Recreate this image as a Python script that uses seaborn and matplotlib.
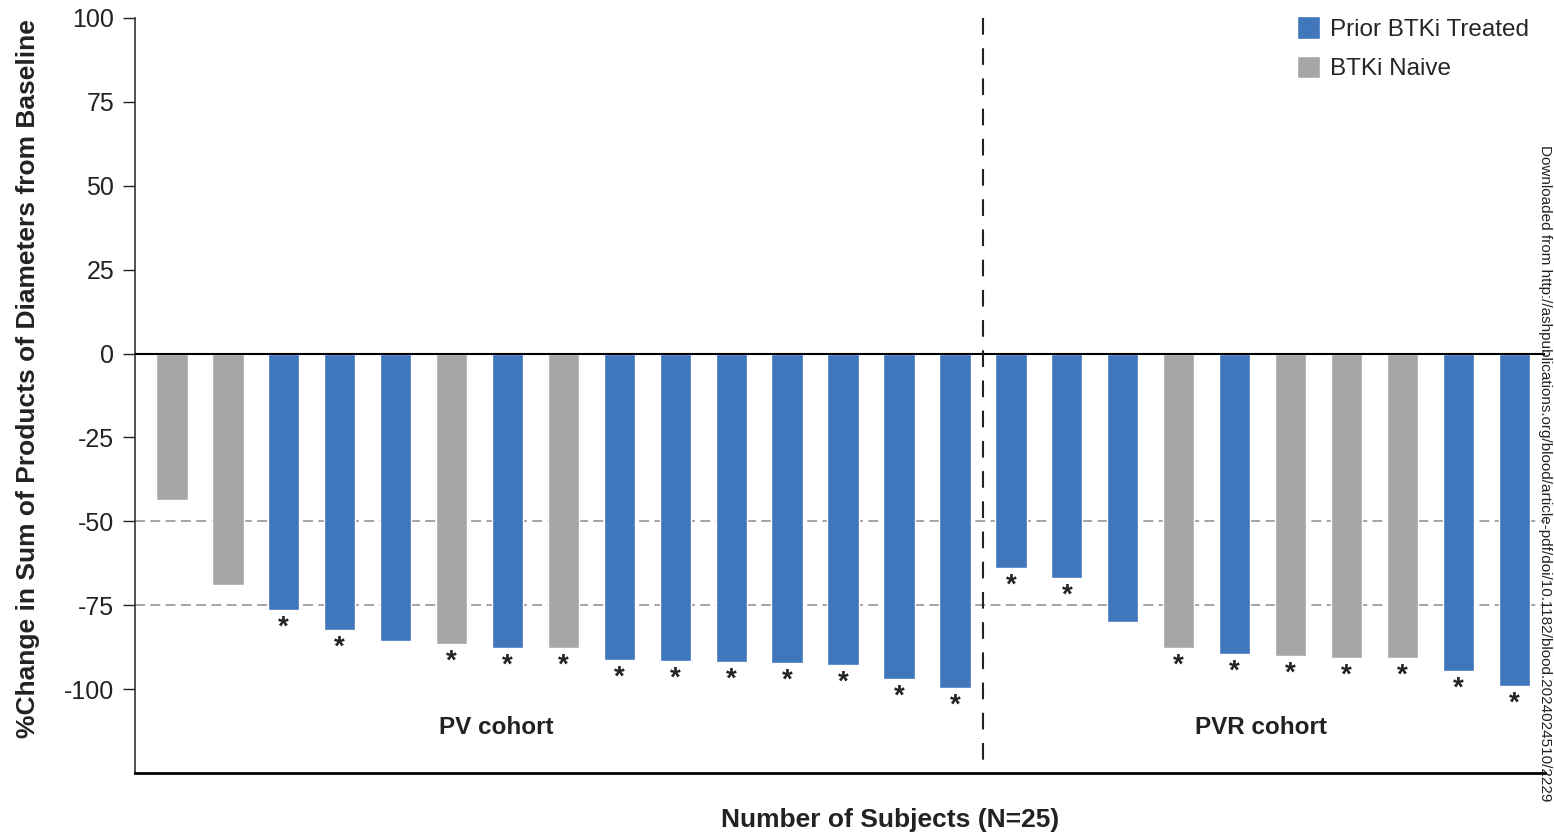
import pandas as pd
import seaborn as sns
import matplotlib.pyplot as plt
from matplotlib.patches import Patch

# % change in SPD per subject (left to right)
subjects = [str(i) for i in range(1, 26)]
pct_change = [-43.7, -69, -76.5, -82.4, -85.7, -86.6, -87.8, -87.8, -91.4, -91.7,
              -92, -92.3, -92.9, -97, -99.7,
              -64, -67, -80, -87.8, -89.6, -90.2, -90.8, -90.8, -94.6, -99.1]
group = ["BTKi Naive", "BTKi Naive", "Prior BTKi Treated", "Prior BTKi Treated",
         "Prior BTKi Treated", "BTKi Naive", "Prior BTKi Treated", "BTKi Naive",
         "Prior BTKi Treated", "Prior BTKi Treated", "Prior BTKi Treated",
         "Prior BTKi Treated", "Prior BTKi Treated", "Prior BTKi Treated",
         "Prior BTKi Treated",
         "Prior BTKi Treated", "Prior BTKi Treated", "Prior BTKi Treated",
         "BTKi Naive", "Prior BTKi Treated", "BTKi Naive", "BTKi Naive",
         "BTKi Naive", "Prior BTKi Treated", "Prior BTKi Treated"]
starred = [False, False, True, True, False, True, True, True, True, True,
           True, True, True, True, True,
           True, True, False, True, True, True, True, True, True, True]
n_pv = 15  # first 15 subjects are the PV cohort, rest PVR

df = pd.DataFrame({"subject": subjects, "pct": pct_change, "group": group})

colors = {"Prior BTKi Treated": "#3f76bc", "BTKi Naive": "#a6a6a6"}

sns.set_style("white")
plt.rcParams["font.family"] = ["Liberation Sans", "DejaVu Sans"]
plt.rcParams["axes.unicode_minus"] = False

fig = plt.figure(figsize=(15.54, 8.4), dpi=100)
ax = fig.add_axes([135 / 1554, 1 - 773 / 840, 1410 / 1554, 755 / 840])

sns.barplot(data=df, x="subject", y="pct", hue="group", order=subjects,
            palette=colors, dodge=False, width=0.56, saturation=1,
            legend=False, ax=ax)

ax.set_xlim(-0.66, 24.55)
ax.set_ylim(-125, 100)

# reference lines
ax.axhline(0, color="black", lw=1.5, zorder=3)
for yv in (-50, -75):
    ax.axhline(yv, color="#8c8c8c", lw=1.1, dashes=(6.5, 3.5), zorder=0)
# cohort divider, dashes starting from the top
ax.plot([n_pv - 0.5, n_pv - 0.5], [100, -125], color="#222222", lw=1.5,
        dashes=(8, 6.5), zorder=3, clip_on=False)

# asterisks under bars
for i, (v, s) in enumerate(zip(pct_change, starred)):
    if s:
        ax.text(i, v - 1.3, "*", ha="center", va="top", fontsize=20,
                fontweight="bold", color="#222222")

ax.text(5.8, -111.5, "PV cohort", ha="center", va="center", fontsize=17.5,
        fontweight="bold", color="#222222")
ax.text(19.48, -111.5, "PVR cohort", ha="center", va="center", fontsize=17.5,
        fontweight="bold", color="#222222")

ax.set_yticks([100, 75, 50, 25, 0, -25, -50, -75, -100])
ax.set_xticks([])
ax.set_xlabel("")
ax.set_ylabel("%Change in Sum of Products of Diameters from Baseline",
              fontsize=19, fontweight="bold", color="#222222")
ax.yaxis.set_label_coords(-0.0675, 0.523)
ax.tick_params(axis="y", direction="out", length=9, width=1, pad=6,
               labelsize=18, colors="#222222", left=True)

sns.despine(ax=ax, top=True, right=True)
ax.spines["left"].set_color("#333333")
ax.spines["left"].set_linewidth(1.2)
ax.spines["bottom"].set_color("black")
ax.spines["bottom"].set_linewidth(2)

handles = [Patch(facecolor=colors[k], label=k) for k in ["Prior BTKi Treated", "BTKi Naive"]]
fig.legend(handles=handles, loc="upper left", bbox_to_anchor=(1297 / 1554, 1 - 16 / 840),
           frameon=False, fontsize=17.5, handlelength=0.95, handleheight=1.05,
           handletextpad=0.4, labelspacing=0.62, borderpad=0, borderaxespad=0)

fig.text(890 / 1554, 1 - 820 / 840, "Number of Subjects (N=25)", ha="center",
         va="center", fontsize=19, fontweight="bold", color="#222222")

# journal download stamp on the right edge
fig.text(1545 / 1554, 1 - 145 / 840,
         "Downloaded from http://ashpublications.org/blood/article-pdf/doi/10.1182/blood.2024024510/2229",
         rotation=-90, ha="center", va="top", fontsize=11, color="#222222")

fig.savefig("out.png", dpi=100)
